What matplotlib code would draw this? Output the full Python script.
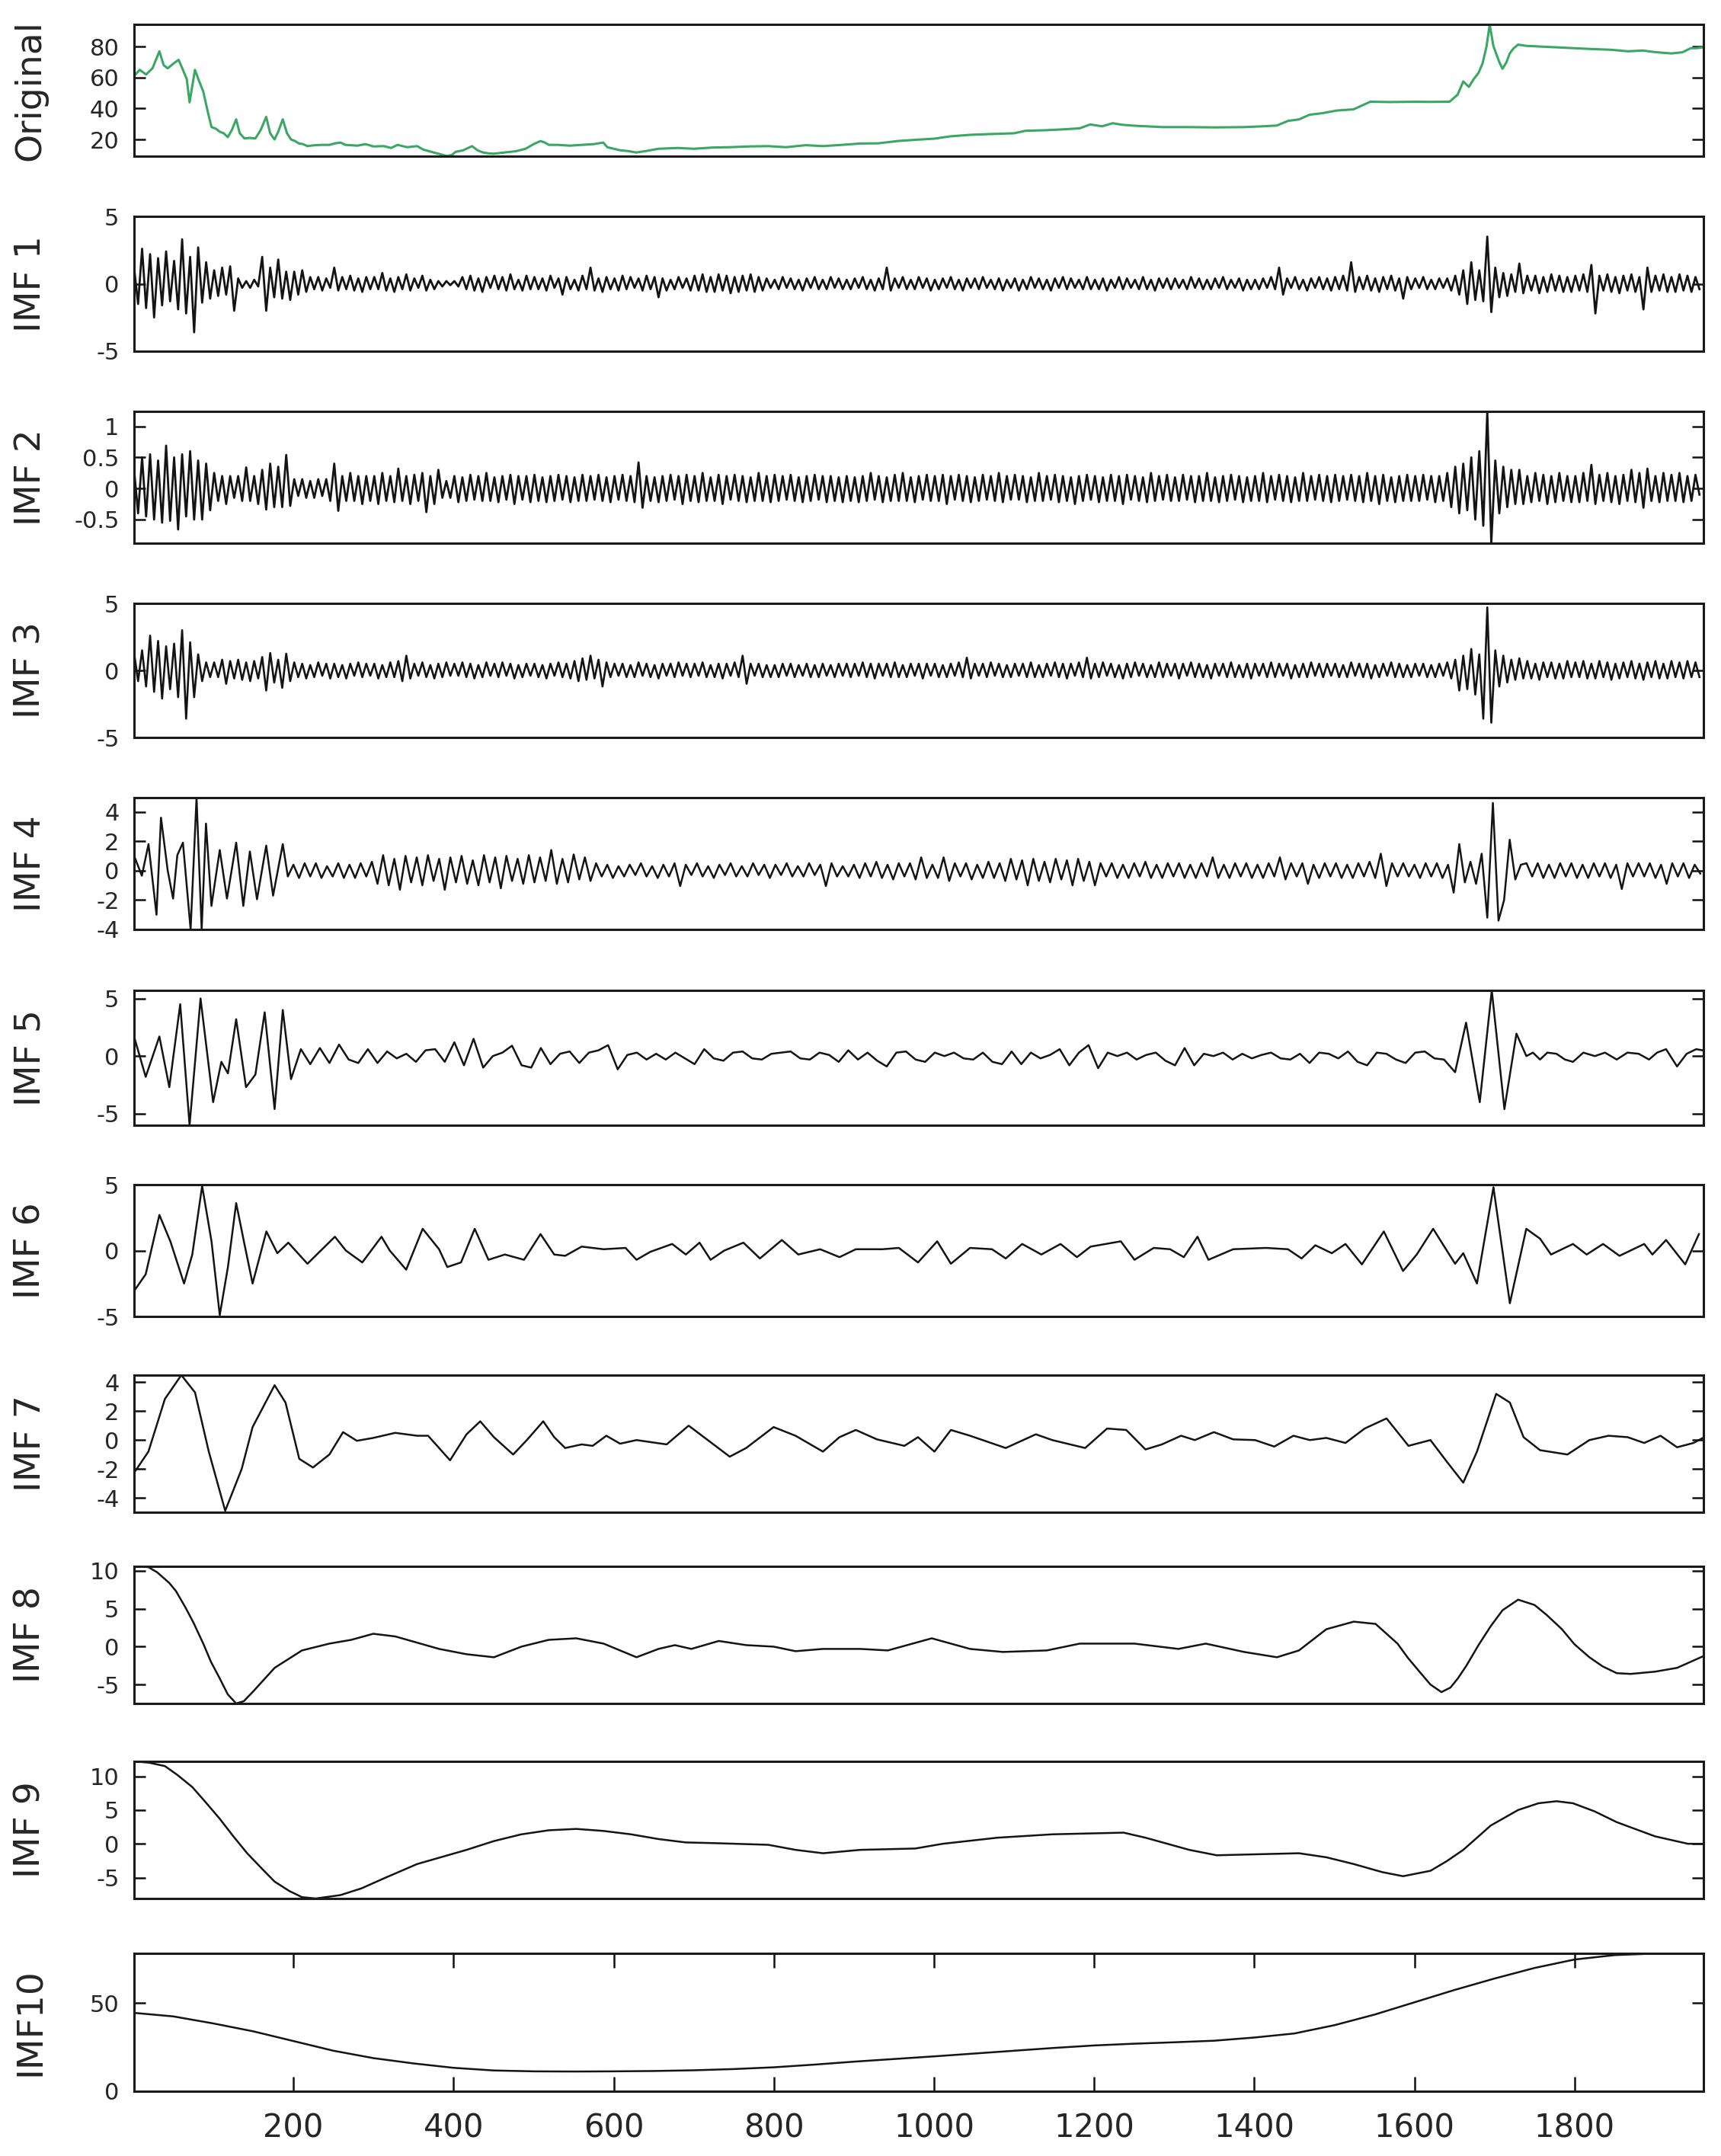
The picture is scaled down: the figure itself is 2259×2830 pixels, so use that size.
import numpy as np
import matplotlib
matplotlib.use('Agg')
import matplotlib.pyplot as plt

# ---------------- data ----------------
panel_labels = ['Original', 'IMF 1', 'IMF 2', 'IMF 3', 'IMF 4', 'IMF 5',
                'IMF 6', 'IMF 7', 'IMF 8', 'IMF 9', 'IMF10']
x_ticks = [200, 400, 600, 800, 1000, 1200, 1400, 1600, 1800]
y_ticks = [[20, 40, 60, 80], [-5, 0, 5], [-0.5, 0, 0.5, 1], [-5, 0, 5],
           [-4, -2, 0, 2, 4], [-5, 0, 5], [-5, 0, 5], [-4, -2, 0, 2, 4],
           [-5, 0, 5, 10], [-5, 0, 5, 10], [0, 50]]
y_limits = [(9.2, 94.4), (-5, 5), (-0.88, 1.24), (-5, 5), (-4.0, 4.96),
            (-6.0, 5.7), (-5, 5), (-5.0, 4.5), (-7.5, 10.6), (-8.1, 12.2),
            (0, 78.3)]

orig_points = [(1, 61), (8, 65), (16, 62), (24, 66), (32.6, 77), (38, 68), (43, 66), (50, 69),
    (56.6, 71.5), (62, 65), (66.8, 59), (70.3, 44), (77, 65), (82, 58), (87.4, 51), (93, 38),
    (97.7, 28), (103, 27), (108, 25), (113, 24), (118, 21.5), (123, 26), (128.5, 33), (133, 24),
    (138.8, 20.7), (145, 21), (152.5, 20.7), (159, 26), (166, 34.6), (171, 24), (176.4, 20),
    (181, 25), (186.7, 33), (192, 24), (197, 20), (202, 19), (207, 17.4), (212, 17),
    (217.5, 15.7), (225, 16.2), (235, 16.5), (245, 16.5), (252, 17.5), (258.7, 18), (265, 16.5),
    (280, 16), (290, 17), (300, 15.5), (313, 15.7), (322, 14.5), (330, 16.5), (342, 15),
    (354.6, 15.7), (362, 13.5), (375, 11.6), (383, 10.5), (392, 9.3), (398, 10), (402.5, 12),
    (412, 13), (423, 15.7), (430, 13), (436.7, 11.6), (444, 11), (450, 10.8), (462, 11.5),
    (477.8, 12.4), (490, 14), (500, 17), (508.6, 19), (514, 18), (519, 16.5), (530, 16.5),
    (545, 16), (560, 16.5), (575, 17), (587, 18), (592, 15), (608, 13), (618, 12.5),
    (628, 11.6), (640, 12.5), (656, 14), (680, 14.5), (700, 14), (724, 14.8), (745, 15),
    (770, 15.5), (793, 15.7), (815, 15), (840, 16.3), (861, 15.7), (885, 16.5), (908, 17.4),
    (930, 17.5), (955, 19), (977, 19.8), (1000, 20.5), (1020, 22), (1045, 23), (1070, 23.5),
    (1100, 24), (1114, 25.6), (1140, 26), (1160, 26.5), (1182, 27.2), (1195, 29.7),
    (1210, 28.5), (1223, 30.5), (1235, 29.5), (1250, 28.9), (1285, 28), (1319, 28),
    (1350, 27.8), (1387, 28), (1410, 28.5), (1428, 29), (1442, 32), (1456, 33), (1469, 36),
    (1485, 37), (1503, 38.7), (1524, 39.5), (1545, 44.4), (1570, 44.2), (1600, 44.4),
    (1620, 44.3), (1644, 44.4), (1654, 49), (1661, 57.5), (1668, 54), (1674, 59), (1680, 63),
    (1685, 69), (1690, 80), (1694, 94.3), (1698.6, 80.5), (1702, 75.6), (1706, 70),
    (1710, 65.7), (1715, 70), (1719, 75.6), (1724, 79), (1729.5, 81.3), (1740, 80.5),
    (1760, 80), (1780, 79.5), (1798, 79), (1820, 78.5), (1845, 78), (1867, 77), (1885, 77.5),
    (1900, 76.5), (1921, 75.6), (1935, 76.4), (1945, 79), (1952, 79), (1960, 79.5)]

# IMF 1-3: samples every 5 steps starting at 1
imf_step = 5
imf1_vals = [
    1.2,-1.5,2.6,-1.8,2.2,-2.5,1.9,-1.6,2.4,-1.3,1.7,-1.9,3.3,-2.2,2.0,-3.6,2.7,-1.4,1.6,-1.1,
    1.0,-0.9,1.2,-0.8,1.3,-2.0,0.4,-0.3,0.2,-0.3,0.3,-0.2,2.0,-2.0,1.2,-1.0,1.8,-1.1,0.9,-1.2,
    0.9,-0.8,1.0,-0.6,0.5,-0.4,0.5,-0.5,0.4,-0.3,1.2,-0.5,0.5,-0.4,0.6,-0.5,0.4,-0.6,0.5,-0.4,
    0.5,-0.4,0.8,-0.5,0.4,-0.6,0.5,-0.4,0.7,-0.5,0.4,-0.3,0.6,-0.5,0.3,-0.4,0.2,-0.2,0.2,-0.1,
    0.2,-0.2,0.5,-0.4,0.6,-0.5,0.4,-0.6,0.5,-0.3,0.6,-0.4,0.5,-0.5,0.7,-0.4,0.3,-0.5,0.6,-0.4,
    0.5,-0.4,0.4,-0.5,0.6,-0.3,0.4,-0.8,0.5,-0.4,0.3,-0.5,0.6,-0.4,1.2,-0.5,0.4,-0.6,0.5,-0.4,
    0.4,-0.5,0.6,-0.4,0.5,-0.3,0.4,-0.5,0.6,-0.4,0.5,-1.0,0.4,-0.5,0.3,-0.4,0.5,-0.3,0.4,-0.5,
    0.6,-0.5,0.7,-0.6,0.5,-0.6,0.7,-0.5,0.6,-0.7,0.5,-0.6,0.6,-0.5,0.7,-0.6,0.5,-0.5,0.4,-0.3,
    0.3,-0.4,0.5,-0.3,0.4,-0.4,0.3,-0.5,0.4,-0.3,0.5,-0.4,0.3,-0.4,0.5,-0.3,0.4,-0.4,0.3,-0.4,
    0.4,-0.3,0.5,-0.4,0.3,-0.5,0.4,-0.4,1.2,-0.5,0.4,-0.3,0.5,-0.4,0.3,-0.4,0.5,-0.3,0.4,-0.5,
    0.3,-0.4,0.4,-0.3,0.5,-0.4,0.3,-0.5,0.4,-0.3,0.4,-0.4,0.5,-0.3,0.3,-0.4,0.4,-0.5,0.3,-0.3,
    0.4,-0.5,0.3,-0.4,0.5,-0.3,0.4,-0.4,0.3,-0.5,0.4,-0.3,0.5,-0.4,0.4,-0.3,0.3,-0.4,0.5,-0.4,
    0.3,-0.4,0.4,-0.5,0.3,-0.3,0.5,-0.4,0.4,-0.3,0.3,-0.4,0.5,-0.4,0.3,-0.5,0.4,-0.3,0.4,-0.4,
    0.4,-0.3,0.3,-0.4,0.5,-0.3,0.4,-0.4,0.3,-0.4,0.4,-0.3,0.5,-0.4,0.3,-0.3,0.4,-0.5,0.3,-0.4,
    0.3,-0.4,0.4,-0.3,0.5,-0.4,1.2,-0.8,0.4,-0.3,0.5,-0.4,0.3,-0.5,0.4,-0.3,0.5,-0.4,0.4,-0.5,
    0.5,-0.4,0.6,-0.5,1.6,-0.6,0.5,-0.4,0.6,-0.5,0.4,-0.6,0.5,-0.4,0.6,-0.5,0.4,-1.1,0.5,-0.4,
    0.4,-0.3,0.5,-0.4,0.3,-0.4,0.4,-0.3,0.4,-0.5,0.6,-0.8,1.0,-1.5,1.6,-1.2,1.0,-1.3,3.5,-2.1,
    1.2,-1.0,0.8,-0.9,0.7,-0.6,1.5,-0.7,0.6,-0.5,0.6,-0.7,0.5,-0.6,0.7,-0.5,0.6,-0.6,0.5,-0.6,
    0.6,-0.5,0.7,-0.6,1.4,-2.2,0.6,-0.5,0.7,-0.6,0.5,-0.7,0.6,-0.5,0.7,-0.6,0.5,-1.9,1.2,-0.6,
    0.6,-0.5,0.7,-0.6,0.5,-0.6,0.7,-0.5,0.6,-0.6,0.5,-0.4]

imf2_vals = [
    0.3,-0.4,0.5,-0.45,0.55,-0.5,0.45,-0.55,0.69,-0.52,0.5,-0.66,0.55,-0.45,0.6,-0.5,0.45,-0.5,0.4,-0.35,
    0.25,-0.2,0.2,-0.25,0.2,-0.15,0.2,-0.2,0.34,-0.2,0.2,-0.25,0.3,-0.34,0.4,-0.3,0.35,-0.3,0.54,-0.28,
    0.15,-0.12,0.15,-0.15,0.12,-0.15,0.15,-0.12,0.15,-0.2,0.4,-0.36,0.2,-0.2,0.25,-0.2,0.2,-0.25,0.2,-0.2,
    0.2,-0.25,0.25,-0.2,0.2,-0.22,0.32,-0.2,0.2,-0.25,0.22,-0.2,0.25,-0.38,0.2,-0.25,0.3,-0.15,0.12,-0.15,
    0.2,-0.22,0.18,-0.2,0.22,-0.18,0.2,-0.2,0.25,-0.2,0.18,-0.22,0.2,-0.18,0.22,-0.25,0.2,-0.18,0.2,-0.22,
    0.22,-0.2,0.18,-0.22,0.2,-0.2,0.22,-0.18,0.2,-0.22,0.18,-0.2,0.22,-0.2,0.2,-0.18,0.22,-0.2,0.18,-0.22,
    0.2,-0.18,0.22,-0.2,0.2,-0.22,0.42,-0.31,0.2,-0.2,0.18,-0.22,0.2,-0.2,0.22,-0.18,0.2,-0.25,0.22,-0.2,
    0.2,-0.22,0.25,-0.2,0.18,-0.2,0.22,-0.25,0.2,-0.18,0.22,-0.2,0.2,-0.22,0.18,-0.2,0.25,-0.2,0.2,-0.22,
    0.22,-0.2,0.2,-0.18,0.22,-0.2,0.18,-0.22,0.2,-0.2,0.22,-0.18,0.2,-0.22,0.2,-0.2,0.18,-0.22,0.2,-0.2,
    0.18,-0.22,0.2,-0.2,0.25,-0.18,0.2,-0.22,0.18,-0.2,0.22,-0.2,0.25,-0.2,0.18,-0.22,0.2,-0.18,0.22,-0.2,
    0.2,-0.2,0.22,-0.25,0.2,-0.18,0.22,-0.2,0.2,-0.22,0.18,-0.2,0.22,-0.18,0.2,-0.2,0.25,-0.22,0.2,-0.18,
    0.22,-0.18,0.2,-0.22,0.18,-0.2,0.25,-0.2,0.2,-0.18,0.22,-0.22,0.2,-0.2,0.18,-0.25,0.2,-0.2,0.22,-0.18,
    0.2,-0.22,0.18,-0.2,0.22,-0.2,0.2,-0.25,0.22,-0.18,0.2,-0.2,0.18,-0.22,0.25,-0.2,0.2,-0.18,0.22,-0.2,
    0.18,-0.2,0.22,-0.18,0.2,-0.22,0.2,-0.2,0.25,-0.2,0.18,-0.22,0.2,-0.2,0.22,-0.18,0.2,-0.22,0.18,-0.2,
    0.2,-0.2,0.25,-0.22,0.2,-0.18,0.22,-0.2,0.2,-0.22,0.18,-0.2,0.25,-0.2,0.2,-0.18,0.22,-0.2,0.2,-0.22,
    0.22,-0.2,0.2,-0.18,0.22,-0.2,0.2,-0.22,0.25,-0.2,0.2,-0.25,0.22,-0.2,0.18,-0.22,0.2,-0.2,0.22,-0.2,
    0.2,-0.2,0.22,-0.18,0.2,-0.22,0.2,-0.2,0.25,-0.3,0.35,-0.4,0.4,-0.35,0.5,-0.5,0.6,-0.6,1.24,-0.88,
    0.45,-0.4,0.35,-0.3,0.3,-0.25,0.3,-0.25,0.2,-0.22,0.25,-0.2,0.22,-0.25,0.2,-0.22,0.25,-0.2,0.2,-0.22,
    0.2,-0.22,0.25,-0.2,0.38,-0.25,0.22,-0.2,0.25,-0.22,0.2,-0.25,0.22,-0.2,0.3,-0.22,0.25,-0.31,0.32,-0.2,
    0.2,-0.22,0.25,-0.2,0.22,-0.2,0.25,-0.22,0.2,-0.2,0.22,-0.1]

imf3_vals = [
    1.3,-0.8,1.5,-1.2,2.6,-1.6,2.2,-2.1,1.8,-1.4,2.0,-2.0,3.0,-3.6,2.1,-2.0,1.2,-0.8,0.6,-0.5,
    0.6,-0.5,0.8,-1.0,0.7,-0.6,0.8,-0.7,0.6,-0.8,0.7,-0.6,1.0,-1.5,1.3,-0.9,0.8,-1.3,1.25,-0.8,
    0.6,-0.5,0.5,-0.6,0.4,-0.5,0.6,-0.4,0.5,-0.6,0.5,-0.5,0.4,-0.6,0.5,-0.4,0.6,-0.5,0.5,-0.4,
    0.5,-0.6,0.4,-0.5,0.6,-0.5,0.7,-0.8,1.1,-0.6,0.5,-0.4,0.6,-0.5,0.4,-0.6,0.5,-0.5,0.6,-0.4,
    0.5,-0.4,0.6,-0.5,0.5,-0.6,0.4,-0.5,0.6,-0.4,0.5,-0.5,0.6,-0.4,0.5,-0.6,0.4,-0.5,0.5,-0.4,
    0.5,-0.5,0.4,-0.6,0.5,-0.4,0.6,-0.5,0.5,-0.6,0.7,-0.8,0.9,-0.7,1.1,-0.6,0.8,-1.2,0.6,-0.5,
    0.5,-0.4,0.5,-0.5,0.4,-0.5,0.6,-0.4,0.5,-0.5,0.4,-0.6,0.5,-0.4,0.5,-0.5,0.6,-0.4,0.5,-0.5,
    0.5,-0.4,0.6,-0.5,0.4,-0.5,0.5,-0.6,0.5,-0.4,0.6,-0.5,1.1,-1.0,0.5,-0.4,0.5,-0.5,0.4,-0.5,
    0.4,-0.5,0.5,-0.4,0.5,-0.5,0.4,-0.4,0.5,-0.5,0.4,-0.5,0.5,-0.4,0.4,-0.5,0.5,-0.4,0.5,-0.5,
    0.5,-0.4,0.6,-0.5,0.5,-0.6,0.5,-0.4,0.5,-0.5,0.6,-0.5,0.4,-0.5,0.5,-0.4,0.5,-0.6,0.5,-0.4,
    0.5,-0.5,0.4,-0.5,0.5,-0.4,0.6,-0.5,0.95,-0.6,0.5,-0.4,0.5,-0.5,0.6,-0.4,0.5,-0.5,0.4,-0.5,
    0.5,-0.4,0.5,-0.5,0.6,-0.5,0.4,-0.5,0.5,-0.4,0.6,-0.5,0.5,-0.6,0.5,-0.4,0.6,-0.5,0.95,-0.6,
    0.5,-0.5,0.6,-0.4,0.5,-0.5,0.4,-0.6,0.5,-0.5,0.6,-0.4,0.5,-0.5,0.4,-0.5,0.6,-0.5,0.5,-0.4,
    0.5,-0.6,0.5,-0.4,0.6,-0.5,0.5,-0.5,0.4,-0.6,0.5,-0.4,0.5,-0.5,0.6,-0.5,0.4,-0.5,0.5,-0.6,
    0.5,-0.4,0.5,-0.5,0.6,-0.5,0.5,-0.4,0.5,-0.6,0.4,-0.5,0.5,-0.5,0.6,-0.4,0.5,-0.5,0.5,-0.4,
    0.5,-0.5,0.4,-0.5,0.6,-0.4,0.5,-0.5,0.5,-0.6,0.4,-0.5,0.5,-0.4,0.6,-0.5,0.5,-0.5,0.4,-0.5,
    0.5,-0.4,0.5,-0.5,0.4,-0.5,0.5,-0.4,0.6,-0.6,0.8,-1.5,1.1,-1.4,1.6,-1.8,1.2,-3.6,4.7,-3.9,
    1.5,-1.2,1.1,-0.9,0.8,-0.7,0.9,-0.6,0.7,-0.6,0.5,-0.7,0.6,-0.5,0.6,-0.6,0.5,-0.6,0.7,-0.5,
    0.6,-0.5,0.7,-0.6,0.5,-0.6,0.7,-0.5,0.6,-0.7,0.5,-0.6,0.6,-0.5,0.7,-0.6,0.5,-0.7,0.6,-0.5,
    0.7,-0.6,0.5,-0.6,0.7,-0.5,0.6,-0.6,0.7,-0.5,0.6,-0.5]

# IMF 4: irregular head, then samples every 7 steps from 200
imf4_head = [(1.8, 0.9), (10.7, -0.35), (19, 1.8), (29, -3.0), (34.6, 3.6), (43, 0.0),
    (49.7, -1.9), (55, 1.05), (62, 1.9), (71.6, -4.0), (79, 4.96), (85.4, -4.0), (90.8, 3.2),
    (97.6, -2.4), (108, 1.4), (117, -1.9), (128.5, 1.9), (137.4, -2.4), (145.6, 1.3),
    (154.5, -1.95), (166, 1.7), (174.6, -1.7), (186.7, 1.8), (193, -0.4)]
imf4_tail_start = 200
imf4_tail_step = 7
imf4_tail = [
    0.4,-0.5,0.5,-0.4,0.5,-0.5,0.3,-0.4,0.5,-0.5,0.4,-0.5,0.5,-0.4,0.6,-0.9,1.05,-1.0,0.8,-1.3,
    1.0,-0.8,0.9,-1.0,1.05,-0.7,0.8,-1.3,0.9,-0.8,1.0,-0.9,0.7,-1.0,1.05,-0.8,0.9,-1.2,1.0,-0.7,
    0.8,-0.9,1.05,-0.8,0.9,-0.7,1.4,-0.9,0.8,-0.8,1.1,-0.6,0.9,-0.7,0.5,-0.4,0.4,-0.5,0.3,-0.4,
    0.4,-0.3,0.5,-0.4,0.3,-0.5,0.4,-0.4,0.5,-1.05,0.4,-0.3,0.5,-0.4,0.3,-0.5,0.4,-0.3,0.5,-0.4,
    0.3,-0.4,0.5,-0.3,0.4,-0.5,0.4,-0.3,0.5,-0.4,0.3,-0.4,0.5,-0.3,0.4,-1.05,0.5,-0.4,0.3,-0.4,
    0.4,-0.5,0.5,-0.4,0.6,-0.5,0.4,-0.6,0.5,-0.4,0.5,-0.6,0.9,-0.5,0.4,-0.5,0.9,-0.7,0.5,-0.4,
    0.5,-0.6,0.4,-0.5,0.6,-0.5,0.5,-0.7,0.8,-0.6,0.7,-1.0,0.8,-0.7,0.6,-0.8,0.8,-0.6,0.7,-1.0,
    0.8,-0.7,0.6,-1.0,0.5,-0.4,0.5,-0.5,0.4,-0.5,0.5,-0.4,0.6,-0.5,0.4,-0.5,0.5,-0.4,0.5,-0.5,
    0.4,-0.5,0.5,-0.4,0.9,-0.5,0.4,-0.5,0.5,-0.4,0.5,-0.5,0.4,-0.5,0.5,-0.4,0.9,-0.6,0.5,-0.4,
    0.5,-0.9,0.4,-0.5,0.5,-0.4,0.5,-0.5,0.4,-0.5,0.5,-0.4,0.6,-0.5,1.15,-1.05,0.5,-0.4,0.5,-0.4,
    0.4,-0.5,0.5,-0.4,0.5,-0.5,0.4,-1.5,1.8,-0.8,0.6,-0.9,1.15,-3.2,4.6,-3.4,-2.0,2.1,-0.6,0.4,
    0.5,-0.4,0.5,-0.5,0.4,-0.5,0.5,-0.4,0.5,-0.5,0.4,-0.5,0.5,-0.4,0.5,-0.5,0.4,-1.25,0.5,-0.4,
    0.5,-0.4,0.5,-0.5,0.4,-0.9,0.5,-0.4,0.5,-0.5,0.4,-0.2]

# IMF 5: head / evenly sampled middle (every 12 from 221) / tail
imf5_head = [(1.8, 1.5), (15.5, -1.8), (32.6, 1.7), (45, -2.7), (58.6, 4.5), (70.3, -6.0),
    (84, 5.0), (99.7, -4.0), (110, -0.5), (118.2, -1.5), (128.5, 3.2), (140.8, -2.7),
    (152.5, -1.6), (164.1, 3.8), (176.5, -4.6), (186.7, 4.0), (197, -2.0), (209.3, 0.6)]
imf5_mid_start = 221
imf5_mid_step = 12
imf5_mid = [
    -0.7,0.7,-0.6,1.0,-0.3,-0.6,0.6,-0.6,0.4,-0.2,
    0.2,-0.5,0.5,0.6,-0.5,1.2,-0.8,1.5,-1.0,0.0,
    0.3,0.9,-0.8,-1.0,0.7,-0.7,0.2,0.4,-0.6,0.3,
    0.5,0.95,-1.15,0.1,0.3,-0.3,0.2,-0.3,0.3,-0.2,
    -0.7,0.6,-0.2,-0.4,0.3,0.4,-0.2,-0.3,0.2,0.3,
    0.4,-0.2,-0.3,0.3,0.1,-0.5,0.5,-0.3,0.3,-0.4,
    -0.9,0.3,0.4,-0.3,-0.5,0.3,0.0,0.3,-0.2,-0.3,
    0.3,-0.5,-0.7,0.4,-0.7,0.3,-0.2,0.1,0.6,-0.8,
    0.3,0.95,-1.05,0.3,0.0,0.3,-0.3,0.1,0.3,-0.4,
    -0.8,0.7,-0.8,0.2,0.0,0.3,-0.3,0.2,-0.2,0.1,
    0.3,-0.2,-0.3,0.2,-0.6,0.3,0.2,-0.2,0.4,-0.5,
    -0.8,0.3,0.2,-0.3,-0.6,0.3,0.4,-0.2,-0.3]
imf5_tail = [(1650.8, -1.4), (1664.5, 2.9), (1681.6, -4.0), (1696.6, 5.7), (1712.4, -4.6),
    (1727.4, 1.95), (1739.8, 0.0), (1748, 0.3), (1756.9, -0.3), (1766, 0.3), (1777.4, 0.2),
    (1788, -0.3), (1798, -0.5), (1811, 0.3), (1825.3, 0.0), (1838, 0.3), (1852.7, -0.3),
    (1866, 0.3), (1880.1, 0.2), (1893, -0.3), (1903, 0.3), (1914.3, 0.6), (1928, -0.9),
    (1940, 0.2), (1952, 0.6), (1960, 0.5)]

imf6_points = [(1.8, -3.0), (15.5, -1.8), (32.6, 2.7), (46.3, 0.7), (63.4, -2.5), (73.7, -0.3),
    (86, 4.9), (97.7, 0.7), (108, -4.9), (118.2, -1.25), (128.5, 3.6), (138.8, 0.5), (149, -2.5),
    (166.2, 1.45), (179.9, -0.2), (193.6, 0.6), (217.5, -1.0), (251.8, 1.05), (265.5, 0.0),
    (286, -0.9), (310, 1.05), (320.3, 0.0), (340.8, -1.45), (361.4, 1.65), (381.9, 0.1),
    (392.2, -1.25), (409.3, -0.9), (426.4, 1.65), (443.6, -0.7), (464.1, -0.3), (488, -0.7),
    (508.6, 1.25), (525.7, -0.3), (539.4, -0.4), (560, 0.3), (587.4, 0.1), (614.8, 0.2),
    (628.5, -0.7), (645.6, -0.1), (673, 0.5), (690.1, -0.3), (707.2, 0.6), (721, -0.7),
    (738.1, 0.0), (762, 0.6), (782.6, -0.6), (810, 0.8), (830.5, -0.3), (857.9, 0.1),
    (882, -0.5), (902.4, 0.1), (935.6, 0.1), (956.1, 0.2), (980, -0.9), (1004, 0.7),
    (1021.1, -1.0), (1045, 0.2), (1072.5, 0.1), (1089.6, -0.6), (1110.1, 0.5), (1134.1, -0.3),
    (1158, 0.5), (1178.5, -0.5), (1195.6, 0.3), (1233.3, 0.7), (1250.4, -0.7), (1274.4, 0.2),
    (1294.9, 0.1), (1312, -0.5), (1329.1, 1.05), (1342.8, -0.7), (1373.6, 0.1), (1414.7, 0.2),
    (1442, 0.1), (1459.1, -0.6), (1476.3, 0.4), (1496.8, -0.2), (1513.9, 0.5), (1534.4, -1.05),
    (1561.8, 1.45), (1585.8, -1.55), (1602.9, -0.3), (1623.4, 1.65), (1650.8, -1.0),
    (1661, -0.2), (1678.1, -2.5), (1698.7, 4.8), (1719.2, -4.0), (1739.7, 1.65), (1756.9, 0.9),
    (1770.6, -0.3), (1798, 0.5), (1815.1, -0.3), (1835.6, 0.5), (1856.1, -0.4), (1887, 0.5),
    (1897.2, -0.3), (1914.3, 0.8), (1938.2, -1.05), (1955.3, 1.25)]

imf7_points = [(1.8, -2.2), (18.9, -0.8), (39.5, 2.85), (60, 4.5), (77.1, 3.3), (94.3, -0.8),
    (114.8, -4.9), (135.4, -2.0), (149, 0.9), (176.5, 3.8), (190.1, 2.6), (207.3, -1.3),
    (224.4, -1.9), (244.9, -1.0), (262, 0.55), (279.2, -0.05), (299.7, 0.15), (327.1, 0.5),
    (354.5, 0.3), (368.2, 0.3), (381.9, -0.55), (395.6, -1.4), (416.2, 0.4), (433.3, 1.3),
    (450.4, 0.2), (474.4, -1.0), (491.5, 0.0), (512, 1.3), (525.7, 0.2), (539.4, -0.55),
    (560, -0.3), (573.7, -0.4), (590.8, 0.3), (608, -0.25), (628.5, 0.0), (666.1, -0.3),
    (693.6, 1.0), (717.5, 0.0), (744.9, -1.15), (765.4, -0.55), (799.7, 0.9), (827.1, 0.3),
    (861.3, -0.8), (881.9, 0.2), (902.4, 0.7), (928.7, 0.05), (963, -0.4), (980, 0.2),
    (1000.6, -0.8), (1021.1, 0.7), (1045, 0.3), (1089.6, -0.55), (1127.2, 0.4), (1147.7, 0.0),
    (1188.8, -0.55), (1216.2, 0.8), (1240.1, 0.7), (1264.1, -0.65), (1284.6, -0.3),
    (1308.6, 0.3), (1325.7, 0.0), (1349.6, 0.55), (1373.6, 0.05), (1401, 0.0), (1424.9, -0.45),
    (1448.9, 0.3), (1469.4, 0.0), (1490, 0.15), (1513.9, -0.2), (1537.9, 0.8), (1565.2, 1.5),
    (1592.6, -0.4), (1620, 0.0), (1640.5, -1.5), (1661, -2.95), (1678.1, -0.8), (1702.1, 3.2),
    (1719.2, 2.6), (1736.3, 0.2), (1756.9, -0.7), (1791.1, -1.0), (1818.5, 0.0), (1842.4, 0.3),
    (1866.4, 0.2), (1886.9, -0.2), (1907.4, 0.3), (1928, -0.5), (1948.5, -0.2), (1962, 0.2)]

imf8_points = [(1.8, 10.6), (18.9, 10.5), (30, 9.8), (45, 8.4), (53.2, 7.35), (65, 5.2),
    (75, 3.2), (87.4, 0.4), (97, -2.0), (108, -4.2), (118, -6.3), (128.5, -7.5), (138, -7.2),
    (149, -6.0), (176.5, -2.8), (210.7, -0.5), (244.9, 0.4), (272.3, 0.9), (299.7, 1.7),
    (327.1, 1.35), (381.9, -0.3), (416.2, -1.0), (450.4, -1.4), (484.7, 0.0), (518.9, 0.9),
    (553.2, 1.1), (587.4, 0.4), (628.5, -1.4), (655.9, -0.3), (676.4, 0.2), (697, -0.3),
    (731.2, 0.75), (765.5, 0.2), (799.7, 0.0), (827.1, -0.6), (861.4, -0.3), (908, -0.3),
    (942.4, -0.5), (997.2, 1.1), (1045, -0.3), (1086.1, -0.7), (1140.9, -0.5), (1182, 0.4),
    (1250.4, 0.4), (1305.2, -0.3), (1339.4, 0.4), (1387.3, -0.7), (1428.3, -1.4),
    (1455.8, -0.5), (1490, 2.3), (1524.2, 3.3), (1551.5, 3.0), (1578.9, 0.4), (1592, -1.5),
    (1606.3, -3.3), (1620, -5.0), (1633.7, -6.0), (1645, -5.4), (1654.2, -4.2), (1665, -2.5),
    (1680, 0.2), (1695.3, 2.7), (1710, 4.8), (1729.5, 6.2), (1750, 5.5), (1765, 4.2),
    (1784.2, 2.3), (1800, 0.3), (1818.5, -1.4), (1835, -2.6), (1852.7, -3.5), (1870, -3.6),
    (1900.6, -3.3), (1928, -2.8), (1962, -1.2)]

imf9_points = [(1.8, 12.2), (20, 12.0), (39.5, 11.5), (55, 10.2), (73.7, 8.4), (90, 6.2),
    (108, 3.7), (125, 1.1), (142.2, -1.4), (160, -3.6), (176.5, -5.6), (195, -7.0),
    (210.7, -7.9), (227.8, -8.1), (258.6, -7.6), (285, -6.6), (313.4, -5.1), (354.5, -3.0),
    (416.2, -0.9), (450.4, 0.4), (484.7, 1.4), (518.9, 2.0), (553.2, 2.2), (587.4, 1.9),
    (621.6, 1.4), (655.9, 0.7), (690.1, 0.2), (724.4, 0.1), (792.9, -0.15), (827.1, -0.9),
    (861.4, -1.4), (908, -0.9), (976.6, -0.7), (1010.9, 0.0), (1079.3, 0.9), (1147.7, 1.4),
    (1236.7, 1.65), (1264.1, 0.9), (1318.8, -0.9), (1353, -1.7), (1455.8, -1.4), (1490, -2.0),
    (1524.2, -3.0), (1560, -4.2), (1585.8, -4.8), (1620, -4.0), (1640, -2.6), (1661, -0.9),
    (1695.3, 2.7), (1729.5, 5.0), (1755, 6.0), (1777.4, 6.3), (1798, 6.0), (1825, 4.8),
    (1852.7, 3.2), (1900.6, 1.1), (1941.6, 0.0), (1962, 0.0)]

imf10_points = [(1, 44.5), (50, 42.5), (100, 38.5), (150, 34), (200, 28.5), (250, 23),
    (300, 18.8), (350, 15.8), (400, 13.3), (450, 11.8), (500, 11.3), (550, 11.2), (600, 11.3),
    (650, 11.5), (700, 11.9), (750, 12.6), (800, 13.6), (850, 15.1), (900, 16.8), (950, 18.3),
    (1000, 19.8), (1050, 21.4), (1100, 23), (1150, 24.6), (1200, 26), (1250, 27), (1300, 27.8),
    (1350, 28.7), (1400, 30.5), (1450, 32.8), (1500, 37.5), (1550, 43.5), (1600, 50.5),
    (1650, 57.5), (1700, 64), (1750, 70), (1800, 74.8), (1850, 77.3), (1900, 78.2),
    (1930, 78.3), (1960, 78.1)]

# ---------------- build series ----------------
def pts(p):
    a = np.array(p, dtype=float)
    return a[:, 0], a[:, 1]

def even(vals, start, step):
    v = np.array(vals, dtype=float)
    return start + step * np.arange(len(v)), v

series = []
series.append(pts(orig_points))
series.append(even(imf1_vals, 1, imf_step))
series.append(even(imf2_vals, 1, imf_step))
series.append(even(imf3_vals, 1, imf_step))
hx, hy = pts(imf4_head)
tx, ty = even(imf4_tail, imf4_tail_start, imf4_tail_step)
series.append((np.concatenate([hx, tx]), np.concatenate([hy, ty])))
hx, hy = pts(imf5_head)
mx, my = even(imf5_mid, imf5_mid_start, imf5_mid_step)
tx, ty = pts(imf5_tail)
series.append((np.concatenate([hx, mx, tx]), np.concatenate([hy, my, ty])))
series.append(pts(imf6_points))
series.append(pts(imf7_points))
series.append(pts(imf8_points))
series.append(pts(imf9_points))
series.append(pts(imf10_points))

# ---------------- figure ----------------
W, H = 2259, 2830
fig = plt.figure(figsize=(W / 100, H / 100), dpi=100)
plt.rcParams['font.family'] = ['DejaVu Sans']
tops = [32, 284, 540, 792, 1047, 1300, 1555, 1805, 2056, 2312, 2564]
bots = [205, 461, 713, 968, 1220, 1477, 1728, 1985, 2236, 2492, 2745]
left_px, right_px = 176, 2236
txt_col = '#262626'
line_widths = [2.2, 2.0, 2.0, 1.9, 1.8, 1.8, 1.8, 1.8, 1.8, 1.8, 1.8]

def fmt(v):
    return ('%g' % v)

for i, (x, y) in enumerate(series):
    ax = fig.add_axes([left_px / W, 1 - bots[i] / H, (right_px - left_px) / W,
                       (bots[i] - tops[i]) / H])
    col = '#3aa862' if i == 0 else '#141414'
    ax.plot(x, y, color=col, lw=line_widths[i], solid_joinstyle='round')
    ax.set_xlim(1, 1961)
    ax.set_ylim(*y_limits[i])
    ax.set_yticks(y_ticks[i])
    ax.set_yticklabels([fmt(t) for t in y_ticks[i]])
    ax.tick_params(axis='y', direction='in', length=11, width=1.8, left=True, right=True,
                   labelsize=22, pad=14, labelcolor=txt_col, color='#111111')
    if i == len(series) - 1:
        ax.set_xticks(x_ticks)
        ax.set_xticklabels([str(t) for t in x_ticks])
        ax.tick_params(axis='x', direction='in', length=14, width=1.8, top=True, bottom=True,
                       labelsize=30, pad=20, labelcolor=txt_col, color='#111111')
    else:
        ax.set_xticks([])
    for s in ax.spines.values():
        s.set_linewidth(2.2)
        s.set_color('#1a1a1a')
    ax.set_ylabel(panel_labels[i], fontsize=34, color=txt_col)
    ax.yaxis.set_label_coords(-0.055, 0.5)

fig.savefig('out.png', dpi=100)
